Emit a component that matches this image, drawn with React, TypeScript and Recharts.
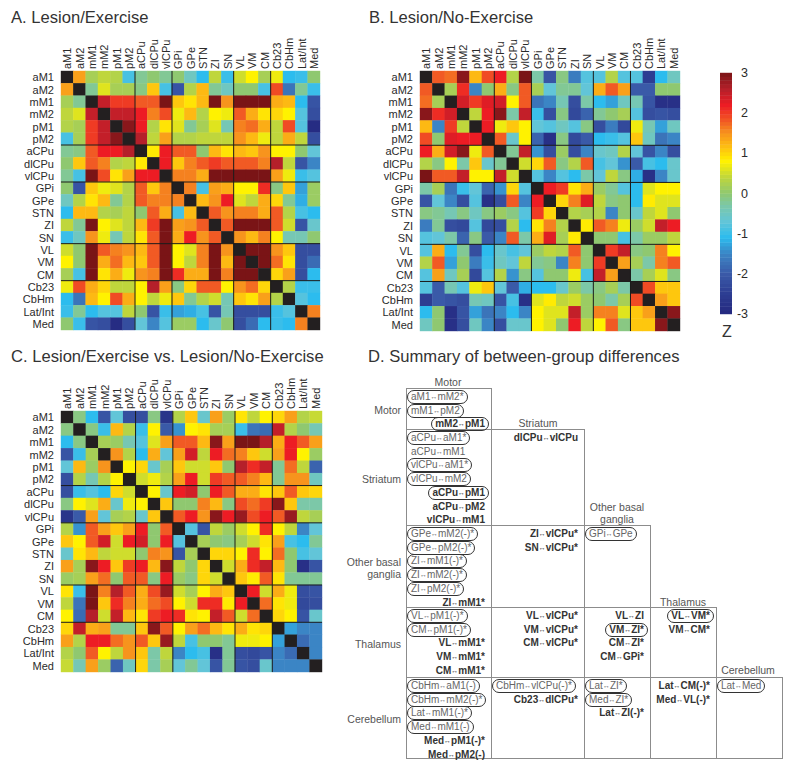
import React from 'react';
import { ScatterChart, Scatter, XAxis, YAxis } from 'recharts';

const regions = ['aM1','aM2','mM1','mM2','pM1','pM2','aCPu','dlCPu','vlCPu','GPi','GPe','STN','ZI','SN','VL','VM','CM','Cb23','CbHm','Lat/Int','Med'];
const groupBreaks = [6, 9, 14, 17];

// upper triangles of the symmetric Z matrices, row by row, diagonal omitted
const lesionExercise: number[][] = [
  [1.4,0.2,0.4,0.3,-0.9,-0.2,0,-0.2,0,-0.5,-1.1,0.4,-1,0.5,0.8,0.2,0.7,-1.1,-1,0],
  [-0.2,0.6,0.2,0.2,-0.1,1.1,-0.9,-2.1,0.3,1.2,-0.2,-0.5,0,0,-0.9,1.9,-1.7,-0.2,-1],
  [2.5,2.0,2.0,1.8,1.8,3,1.1,0.9,1.2,3,1.5,3,3,3,1.3,1.2,-1.1,-2.1],
  [2.5,2.5,2.2,1.6,1.9,0.7,1.2,0.3,0.8,0.7,1.8,1.3,0.9,1.0,0.8,-0.8,-2.2],
  [2.9,2.2,0.3,0.9,0.6,-0.2,0.2,0.6,-0.4,1.6,1.7,1.3,0.4,1.9,-0.8,-2.9],
  [2.6,0.4,1.4,0.3,0.3,0.4,0.4,0.4,1.5,1.2,0.7,0.4,1.3,0.4,-2.2],
  [0.85,2.2,1.8,1.8,0,1.2,0.9,1.2,1.1,1.5,0.8,0.8,0,-0.7],
  [2.2,1.1,1.6,1.8,2.0,1.8,1.8,1.8,1.6,2.6,0.4,-2.1,-1.5],
  [1.6,1.6,1.3,3,3,3,3,3,1.4,0.7,-1,-0.8],
  [1.6,-0.9,1.4,1.3,0.8,0.8,2.1,-0.1,1.1,-1.3,0.1],
  [1.2,1.5,2.2,0.6,0.4,1.3,1,-0.2,-1.2,0.1],
  [1.8,1.5,1.6,1.6,1.3,1.8,0.3,-0.9,-1.1],
  [1.8,3,3,3,1.8,0.5,-2.1,-0.6],
  [1.5,1.2,1.6,0.8,-0.4,-0.4,0],
  [3,3,1.5,1.1,-2.2,-2.2],
  [3,1.7,0.9,-2.2,-1.8],
  [1.0,1.4,-2.2,-1.1],
  [0.3,-1,-1],
  [-0.8,-1.1],
  [1.6],
];

const lesionNoExercise: number[][] = [
  [1.8,1.7,2.9,1.2,1.9,2.2,0.3,3,-0.3,-2.1,-0.1,-1.6,-0.8,-0.8,0.3,-0.8,-0.8,-2.5,-1.1,-0.5],
  [0.2,2.1,-1.5,0,1.3,-0.1,1.8,0.2,-0.7,-0.2,-0.2,-0.7,1.3,1.8,1.4,-2.0,-2.0,0,0],
  [2.4,2.0,2.3,2.4,0.8,1.8,-1.7,-1.5,-0.4,-2.2,-0.3,-1.1,-1.3,-0.5,-0.4,-2.1,-2.8,-2.8],
  [0.4,2.2,2.9,-0.3,2.5,-1,-2.2,-0.1,-2.3,-1.9,-0.2,0,0.2,-0.8,-2.2,-2.1,-2.2],
  [2.2,0.7,1.1,0.8,-0.7,-0.8,-0.5,-0.8,-0.1,-2.2,-1.6,-2.3,0.7,-0.4,-1.3,-0.5],
  [1.8,-0.6,0.8,-1.9,-2.8,-0.1,-2.3,-2,-1.1,-1.0,-0.8,1.1,-0.5,-1.7,-1.5],
  [-0.2,2.5,-1.4,-2.2,0.1,-2.2,-1.5,-0.6,-0.5,0.3,-0.7,-2.1,-1.5,-2.2],
  [0.5,1,1.8,-0.1,0.3,1.8,-0.9,-0.7,-1.4,-2,-0.9,-1.1,-0.6],
  [-0.8,-1.5,-0.8,-1.1,-0.3,-0.7,0.4,-0.1,-1.2,-2.8,-1.5,-0.6],
  [2.2,2.0,0.9,1.3,0.1,-0.2,-0.8,-1.1,0.6,0.8,0.8],
  [1.0,1.6,2.3,0.4,-0.1,0,-1.1,0.85,0.6,0.6],
  [0.3,0.2,0.3,-1.5,0,-0.6,0.4,0.6,0],
  [0.85,1.8,1.6,0.7,0.1,0.5,2.5,2.2],
  [0,0,-0.9,-0.3,0.1,0.1,0.4],
  [2.0,2.5,-0.1,0,1.6,0.8],
  [1.4,0.2,-0.3,1.6,1.8],
  [-0.3,0.2,0.6,-0.1],
  [1.9,1.1,1.1],
  [1.4,1.1],
  [2.9],
];

const exerciseVsNoExercise: number[][] = [
  [-0.1,-1.1,-2.1,-0.7,-2.2,-2.2,-0.1,-2.7,0.3,1.1,-0.6,1.4,0.1,0.9,0.4,0.8,1,1.4,0.3,0.45],
  [-0.1,-1,1.2,0.3,-1,0.8,-2,-1.4,0.8,0.9,0.2,0.2,-1,-1.7,-1.8,2.5,0.3,0,-0.4],
  [0.2,0.1,-0.4,-0.8,0.6,1.4,1.8,1.8,1.2,2.9,1.4,3,3,2.6,1.3,2.2,1.8,1.4],
  [1.5,0.3,-1.1,1.3,-0.7,1.4,2.4,0.4,2.2,1.7,1.6,1.1,0.5,1.4,2.2,0.8,0.1],
  [0.8,1,-0.6,0.2,1.1,0.5,0.5,1.1,0,2.6,2.1,2.5,-0.2,1.7,0.4,-1.9],
  [0.5,0.7,0.3,1.4,2.2,0.5,2.0,1.8,1.8,1.6,1.2,-0.2,1.5,1.5,-0.5],
  [0.8,-0.6,2.2,2.4,0,2.2,1.8,1.3,1.3,0.9,1.1,1.8,1.1,1.0],
  [1.1,0,0,1.6,1.2,-0.1,1.9,1.7,2.0,2.9,1.1,-0.3,-0.3],
  [1.8,2.2,1.5,2.9,2.2,2.8,1.9,2.2,1.8,2.8,0.4,0.2],
  [-0.8,-2.1,0.4,0.1,0.5,0.8,2.1,0.8,0.4,-1.5,-0.7],
  [0.2,0,-0.1,0.2,0.5,0.9,1.4,-0.9,-1.1,-0.2],
  [1.0,1.0,0.8,2.1,0.8,1.7,0,-0.9,-0.7],
  [0.5,1.3,2.1,2.5,1.2,0,-2.8,-2.1],
  [1.1,0.85,1.8,0.9,-0.2,-0.2,-0.2],
  [2.2,0.5,1.3,0.7,-2.2,-2.1],
  [1.7,0.9,0.7,-2.3,-2.2],
  [1,0.8,-2.1,-0.6],
  [-1.3,-1.5,-1.5],
  [-1.8,-1.5],
  [-1.5],
];

const scaleZ = [-3,-2.5,-2,-1.5,-1.1,-0.7,-0.3,0,0.4,0.8,1.2,1.5,1.8,2.2,2.6,3];
const scaleColor = ['#24287f','#2d3d92','#3a5aa8','#3b85c5','#2cbcee','#62c5d8','#7cc8a8','#8fc870','#bfd63c','#fff200','#fdb913','#f7941d','#f15a24','#ed1c24','#b5202a','#7a1416'];
const colorbarTicks = [3,2,1,0,-1,-2,-3];
const colorbarLevels = Array.from({ length: 64 }, (_, i) => -3 + (i + 0.5) * 6 / 64);

const hex = (c: string) => [1,3,5].map(i => parseInt(c.slice(i,i+2),16));
function zColor(z: number | null): string {
  if (z === null) return '#231f20';
  if (z <= scaleZ[0]) return scaleColor[0];
  for (let i = 1; i < scaleZ.length; i++) {
    if (z <= scaleZ[i]) {
      const t = (z - scaleZ[i-1]) / (scaleZ[i] - scaleZ[i-1]);
      const a = hex(scaleColor[i-1]), b = hex(scaleColor[i]);
      return `rgb(${a.map((v,k) => Math.round(v + (b[k]-v)*t)).join(',')})`;
    }
  }
  return scaleColor[scaleColor.length-1];
}

function toPoints(tri: number[][]) {
  const n = regions.length;
  const pts: {col:number,row:number,z:number|null}[] = [];
  for (let r = 0; r < n; r++) {
    for (let c = 0; c < n; c++) {
      let z: number | null = null;
      if (c > r) z = tri[r][c-r-1];
      else if (c < r) z = tri[c][r-c-1];
      pts.push({ col: c + 0.5, row: r + 0.5, z });
    }
  }
  return pts;
}

const FONT = '"Liberation Sans", Arial, sans-serif';
const TEXT = '#2b2b2b';
const TICK_SIZE = 11;
const tickPos = regions.map((_, i) => i + 0.5);
const noPoint = () => <g />;

function TopTick(props: any) {
  const { x, y, payload } = props;
  return <text transform={`translate(${x},${y}) rotate(-90)`} x={-6} y={0} dominantBaseline="central" fontSize={TICK_SIZE} fontFamily={FONT} fill={TEXT}>{regions[Math.floor(payload.value)]}</text>;
}
function LeftTick(props: any) {
  const { x, y, payload } = props;
  return <text x={x+1} y={y} textAnchor="end" dominantBaseline="central" fontSize={TICK_SIZE} fontFamily={FONT} fill={TEXT}>{regions[Math.floor(payload.value)]}</text>;
}

function Heatmap({ tri, left, top, plot }: { tri: number[][], left: number, top: number, plot: number }) {
  const data = toPoints(tri);
  const cell = plot / regions.length;
  const shape = (p: any) => {
    const s = cell + 0.4;
    return <rect x={p.cx - s/2} y={p.cy - s/2} width={s} height={s} fill={zColor(p.payload ? p.payload.z : p.z)} />;
  };
  const sepLine = { stroke: '#1a1a1a', strokeWidth: 1 };
  return (
    <div style={{ position:'absolute', left: left - 60, top: top - 62 }}>
      <ScatterChart width={plot + 60 + 4} height={plot + 62 + 4} margin={{ left: 0, top: 0, right: 4, bottom: 4 }}>
        <XAxis type="number" dataKey="col" orientation="top" domain={[0,21]} ticks={tickPos} interval={0} height={62} axisLine={false} tickLine={false} tick={TopTick} />
        <YAxis type="number" dataKey="row" reversed domain={[0,21]} ticks={tickPos} interval={0} width={60} axisLine={false} tickLine={false} tick={LeftTick} />
        <Scatter data={data} isAnimationActive={false} shape={shape} />
        {groupBreaks.map(g => <Scatter key={'v'+g} data={[{col:g,row:0},{col:g,row:21}]} line={sepLine} shape={noPoint} isAnimationActive={false} />)}
        {groupBreaks.map(g => <Scatter key={'h'+g} data={[{col:0,row:g},{col:21,row:g}]} line={sepLine} shape={noPoint} isAnimationActive={false} />)}
      </ScatterChart>
    </div>
  );
}

function Colorbar() {
  const data = colorbarLevels.map(z => ({ a: 0.5, b: z }));
  const shape = (p: any) => <rect x={p.cx - 6} y={p.cy - 2.1} width={12} height={4.2} fill={zColor(p.payload ? p.payload.b : p.b)} />;
  return (
    <div style={{ position:'absolute', left: 720, top: 63 }}>
      <ScatterChart width={40} height={261} margin={{ left: 0, top: 10, right: 0, bottom: 10 }}>
        <XAxis type="number" dataKey="a" hide domain={[0,1]} />
        <YAxis type="number" dataKey="b" orientation="right" domain={[-3,3]} ticks={colorbarTicks} interval={0} width={28} axisLine={false} tickLine={false}
          tick={(p: any) => <text x={28} y={p.y} dx={0} textAnchor="end" dominantBaseline="central" fontSize={12.5} fontFamily={FONT} fill={TEXT}>{p.payload.value}</text>} />
        <Scatter data={data} isAnimationActive={false} shape={shape} />
      </ScatterChart>
    </div>
  );
}

type Item = { t: string, bold?: boolean, pill?: boolean };
const p = (t: string): Item => ({ t, pill: true });
const n = (t: string): Item => ({ t });
const b = (t: string): Item => ({ t, bold: true });
const bp = (t: string): Item => ({ t, bold: true, pill: true });

const motorMotor = [p('aM1↔mM2*'), p('mM1↔pM2'), bp('mM2↔pM1')];
const striatumMotor = [p('aCPu↔aM1*'), n('aCPu↔mM1'), p('vlCPu↔aM1*'), p('vlCPu↔mM2'), bp('aCPu↔pM1'), b('aCPu↔pM2'), b('vlCPu↔mM1')];
const striatumStriatum = [b('dlCPu↔vlCPu')];
const basalMotor = [p('GPe↔mM2(-)*'), p('GPe↔pM2(-)*'), p('ZI↔mM1(-)*'), p('ZI↔mM2(-)*'), p('ZI↔pM2(-)*'), b('ZI↔mM1*')];
const basalStriatum = [b('ZI↔vlCPu*'), b('SN↔vlCPu*')];
const basalBasal = [p('GPi↔GPe')];
const thalamusMotor = [p('VL↔pM1(-)*'), p('CM↔pM1(-)*'), b('VL↔mM1*'), b('VM↔mM1*'), b('CM↔mM1*')];
const thalamusStriatum = [b('VL↔vlCPu*'), b('VM↔vlCPu*'), b('CM↔vlCPu*')];
const thalamusBasal = [b('VL↔ZI'), bp('VM↔ZI*'), b('CM↔ZI*'), b('CM↔GPi*')];
const thalamusThalamus = [bp('VL↔VM*'), b('VM↔CM*')];
const cerebMotor = [p('CbHm↔aM1(-)'), p('CbHm↔mM2(-)*'), p('Lat↔mM1(-)*'), p('Med↔mM1(-)'), b('Med↔pM1(-)*'), b('Med↔pM2(-)')];
const cerebStriatum = [p('CbHm↔vlCPu(-)*'), b('Cb23↔dlCPu*')];
const cerebBasal = [p('Lat↔ZI*'), p('Med↔ZI*'), b('Lat↔ZI(-)*')];
const cerebThalamus = [b('Lat↔CM(-)*'), b('Med↔VL(-)*')];
const cerebCereb = [p('Lat↔Med')];

const colX = [406, 491, 584, 650, 716, 782];
const rowY = [388, 429, 525, 607, 677, 758];
const summaryRows: Item[][][] = [
  [motorMotor],
  [striatumMotor, striatumStriatum],
  [basalMotor, basalStriatum, basalBasal],
  [thalamusMotor, thalamusStriatum, thalamusBasal, thalamusThalamus],
  [cerebMotor, cerebStriatum, cerebBasal, cerebThalamus, cerebCereb],
];

const GRID = '#8c8c8c';
function Abs({ style, children }: any) {
  return <div style={{ position:'absolute', fontFamily: FONT, whiteSpace:'nowrap', ...style }}>{children}</div>;
}
function Entry({ item, row, col, i }: { item: Item, row: number, col: number, i: number }) {
  const cy = rowY[row] + 9 + i * 13.7;
  const [l, r] = item.t.split('↔');
  const pos: any = item.bold ? { right: 800 - colX[col+1] + 2 } : { left: colX[col] + 1 };
  return (
    <Abs style={{ ...pos, top: cy - 7, height: 12, lineHeight: '12px', fontSize: 10, padding: '0 3px',
      border: item.pill ? '1px solid #333' : '1px solid transparent', borderRadius: 7,
      fontWeight: item.bold ? 700 : 400, color: item.bold ? '#333' : '#666' }}>
      {l}<span style={{ fontSize: 7, verticalAlign: '1px', fontWeight: 400 }}>↔</span>{r}
    </Abs>
  );
}
function Line({ x1, y1, x2, y2 }: any) {
  return <div style={{ position:'absolute', left:x1, top:y1, width: Math.max(1,x2-x1), height: Math.max(1,y2-y1), background: GRID }} />;
}

function Summary() {
  const lab = { fontSize: 10.5, color: '#555', lineHeight: '12px' };
  const head = (t: string, cx: number, y: number) => <Abs style={{ ...lab, left: cx - 40, width: 80, textAlign:'center', top: y - 6 }}>{t}</Abs>;
  const side = (t: string, y: number) => <Abs style={{ ...lab, right: 800 - 401, top: y - 6 }}>{t}</Abs>;
  return (
    <>
      <Line x1={406} y1={388} x2={491} y2={388} />
      <Line x1={406} y1={429} x2={584} y2={429} />
      <Line x1={406} y1={525} x2={650} y2={525} />
      <Line x1={406} y1={607} x2={716} y2={607} />
      <Line x1={406} y1={677} x2={782} y2={677} />
      <Line x1={406} y1={758} x2={783} y2={758} />
      <Line x1={406} y1={388} x2={406} y2={758} />
      <Line x1={491} y1={388} x2={491} y2={758} />
      <Line x1={584} y1={429} x2={584} y2={758} />
      <Line x1={650} y1={525} x2={650} y2={758} />
      <Line x1={716} y1={607} x2={716} y2={758} />
      <Line x1={782} y1={677} x2={782} y2={758} />
      {head('Motor', 448, 382)}
      {head('Striatum', 538, 423)}
      {head('Other basal', 617, 507)}
      {head('ganglia', 617, 519)}
      {head('Thalamus', 683, 602)}
      {head('Cerebellum', 748, 670)}
      {side('Motor', 410)}
      {side('Striatum', 479)}
      {side('Other basal', 562)}
      {side('ganglia', 574)}
      {side('Thalamus', 644)}
      {side('Cerebellum', 719)}
      {summaryRows.map((cells, r) => cells.map((items, c) => items.map((it, i) =>
        <Entry key={`${r}-${c}-${i}`} item={it} row={r} col={c} i={i} />)))}
    </>
  );
}

const titles: [string, number, number][] = [
  ['A. Lesion/Exercise', 11, 18],
  ['B. Lesion/No-Exercise', 369, 18],
  ['C. Lesion/Exercise vs. Lesion/No-Exercise', 11, 357],
  ['D. Summary of between-group differences', 368, 357],
];

export default function App() {
  return (
    <div style={{ position:'absolute', left:0, top:0, width:800, height:777, background:'#fff', overflow:'hidden' }}>
      {titles.map(([t,x,y]) => <Abs key={t} style={{ left:x, top:y-11, fontSize:16.6, lineHeight:'22px', color:'#333' }}>{t}</Abs>)}
      <Heatmap tri={lesionExercise} left={61} top={71} plot={259} />
      <Heatmap tri={lesionNoExercise} left={420} top={71} plot={260} />
      <Heatmap tri={exerciseVsNoExercise} left={61} top={411} plot={261} />
      <Colorbar />
      <Abs style={{ left: 720, width: 14, textAlign:'center', top: 322, fontSize: 16, lineHeight:'20px', color:'#333' }}>Z</Abs>
      <Summary />
    </div>
  );
}
